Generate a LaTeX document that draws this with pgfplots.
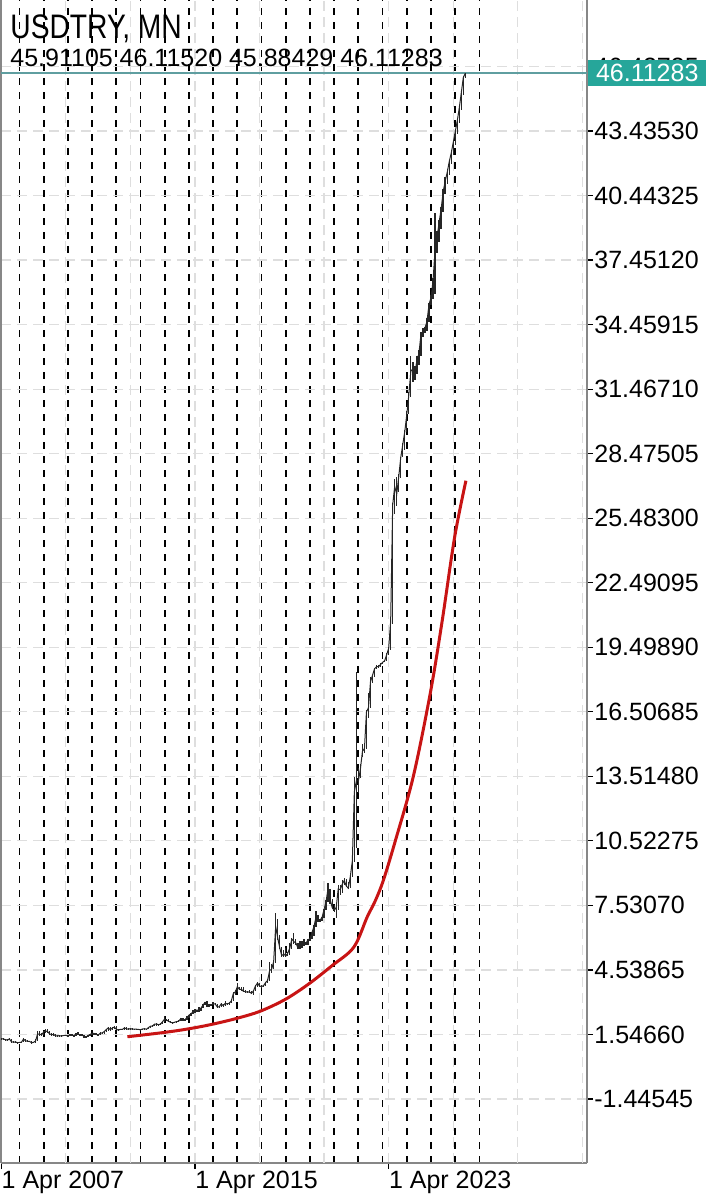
\documentclass[border=0pt]{standalone}
\usepackage{fontspec}
\setmainfont{Liberation Sans}
\newfontfamily\titlefont[FakeStretch=0.83]{Liberation Sans}
\usepackage{pgfplots}
\usepackage{pgfplotstable}
\pgfplotsset{compat=1.18}

\definecolor{mtred}{RGB}{200,20,20}
\definecolor{mtteal}{RGB}{38,166,154}
\definecolor{mtline}{RGB}{95,158,160}
\definecolor{gridgray}{RGB}{222,222,222}
\definecolor{axgray}{RGB}{135,135,135}

% monthly bars, n = months since Jan 2000
\pgfplotstableread{
n c lo hi
87 1.355 1.340 1.400
88 1.335 1.310 1.365
89 1.310 1.300 1.345
90 1.285 1.255 1.330
91 1.340 1.270 1.395
92 1.215 1.200 1.345
93 1.185 1.180 1.225
94 1.200 1.170 1.225
95 1.165 1.150 1.205
96 1.175 1.160 1.210
97 1.190 1.170 1.215
98 1.330 1.180 1.390
99 1.255 1.250 1.340
100 1.230 1.205 1.280
101 1.225 1.205 1.265
102 1.165 1.155 1.240
103 1.180 1.155 1.210
104 1.250 1.165 1.320
105 1.570 1.240 1.730
106 1.560 1.480 1.720
107 1.530 1.490 1.620
108 1.660 1.520 1.710
109 1.710 1.620 1.810
110 1.670 1.640 1.790
111 1.570 1.560 1.700
112 1.540 1.520 1.620
113 1.540 1.500 1.620
114 1.480 1.470 1.560
115 1.490 1.460 1.530
116 1.480 1.460 1.540
117 1.480 1.420 1.520
118 1.500 1.460 1.540
119 1.500 1.460 1.530
120 1.490 1.440 1.520
121 1.520 1.470 1.560
122 1.520 1.510 1.560
123 1.490 1.470 1.530
124 1.570 1.470 1.630
125 1.580 1.530 1.640
126 1.510 1.500 1.590
127 1.530 1.480 1.560
128 1.450 1.440 1.530
129 1.420 1.390 1.460
130 1.500 1.410 1.530
131 1.540 1.490 1.570
132 1.610 1.520 1.630
133 1.590 1.570 1.630
134 1.550 1.530 1.620
135 1.520 1.480 1.570
136 1.600 1.510 1.640
137 1.620 1.570 1.660
138 1.680 1.590 1.720
139 1.770 1.660 1.800
140 1.850 1.730 1.870
141 1.770 1.750 1.910
142 1.840 1.740 1.880
143 1.890 1.780 1.940
144 1.790 1.760 1.920
145 1.750 1.740 1.820
146 1.780 1.740 1.810
147 1.780 1.750 1.810
148 1.850 1.770 1.880
149 1.810 1.800 1.870
150 1.790 1.780 1.840
151 1.820 1.780 1.830
152 1.790 1.780 1.830
153 1.790 1.780 1.810
154 1.790 1.780 1.810
155 1.780 1.770 1.800
156 1.760 1.750 1.790
157 1.800 1.750 1.810
158 1.810 1.790 1.830
159 1.790 1.780 1.820
160 1.870 1.790 1.890
161 1.930 1.850 1.960
162 1.940 1.910 1.980
163 2.030 1.930 2.050
164 2.030 1.950 2.070
165 2.000 1.960 2.040
166 2.030 1.990 2.070
167 2.150 2.010 2.180
168 2.260 2.130 2.390
169 2.210 2.170 2.260
170 2.150 2.130 2.270
171 2.110 2.100 2.170
172 2.080 2.070 2.130
173 2.120 2.060 2.140
174 2.140 2.080 2.160
175 2.170 2.120 2.200
176 2.280 2.150 2.290
177 2.220 2.210 2.300
178 2.220 2.200 2.270
179 2.330 2.200 2.400
180 2.440 2.310 2.450
181 2.500 2.380 2.540
182 2.600 2.480 2.700
183 2.670 2.550 2.730
184 2.670 2.580 2.700
185 2.690 2.600 2.800
186 2.770 2.640 2.790
187 2.910 2.760 2.960
188 3.030 2.900 3.070
189 2.920 2.800 3.080
190 2.900 2.800 2.960
191 2.920 2.850 2.970
192 2.960 2.910 3.070
193 2.960 2.890 3.010
194 2.830 2.820 2.970
195 2.830 2.770 2.870
196 2.960 2.810 3.000
197 2.880 2.870 2.980
198 2.990 2.850 3.080
199 2.960 2.910 3.020
200 3.000 2.920 3.030
201 3.100 2.990 3.120
202 3.440 3.080 3.520
203 3.520 3.370 3.600
204 3.760 3.510 3.940
205 3.640 3.600 3.750
206 3.640 3.580 3.740
207 3.550 3.530 3.740
208 3.530 3.480 3.620
209 3.510 3.470 3.580
210 3.520 3.510 3.590
211 3.450 3.440 3.570
212 3.570 3.390 3.580
213 3.800 3.540 3.860
214 3.930 3.770 3.990
215 3.790 3.750 3.940
216 3.770 3.720 3.820
217 3.810 3.730 3.830
218 3.950 3.800 3.990
219 4.050 3.930 4.110
220 4.510 4.040 4.920
221 4.570 4.390 4.820
222 4.920 4.560 4.980
223 6.550 4.870 7.200
224 6.030 5.910 6.880
225 5.570 5.490 6.150
226 5.200 5.140 5.600
227 5.280 5.120 5.470
228 5.180 5.150 5.550
229 5.320 5.200 5.360
230 5.550 5.230 5.800
231 5.970 5.520 6.000
232 5.850 5.760 6.250
233 5.790 5.680 5.960
234 5.570 5.520 5.800
235 5.830 5.510 5.880
236 5.650 5.560 5.860
237 5.790 5.640 5.990
238 5.750 5.680 5.830
239 5.950 5.700 5.970
240 5.970 5.860 6.000
241 6.270 5.950 6.280
242 6.550 6.100 6.630
243 7.000 6.550 7.260
244 6.820 6.760 7.080
245 6.850 6.740 6.900
246 6.970 6.830 7.000
247 7.350 6.940 7.380
248 7.720 7.330 7.800
249 8.330 7.700 8.580
250 7.820 7.590 8.280
251 7.430 7.390 7.850
252 7.290 7.230 7.560
253 7.440 6.960 7.500
254 8.290 7.340 8.470
255 8.260 8.030 8.470
256 8.510 8.110 8.700
257 8.690 8.460 8.810
258 8.430 8.380 8.760
259 8.330 8.290 8.630
260 8.870 8.330 8.940
261 9.590 8.860 9.850
262 12.80 9.550 13.480
263 13.30 10.200 18.360
264 13.30 12.750 13.880
265 13.85 13.420 14.080
266 14.67 14.400 15.000
267 14.80 14.580 14.890
268 16.50 14.800 16.600
269 16.70 16.200 17.370
270 17.90 16.700 18.100
271 18.20 17.820 18.210
272 18.50 18.120 18.540
273 18.60 18.490 18.680
274 18.60 18.550 18.690
275 18.70 18.570 18.760
276 18.80 18.710 18.830
277 18.87 18.810 18.930
278 19.15 18.860 19.240
279 19.44 19.140 19.480
280 20.70 19.360 20.750
281 26.10 20.600 26.200
282 26.95 25.700 27.300
283 26.60 26.050 27.370
284 27.40 26.700 27.550
285 28.30 27.360 28.320
286 28.90 28.300 28.950
287 29.50 28.650 29.550
288 30.30 29.480 30.450
289 31.20 30.300 31.320
290 32.30 31.100 33.000
291 32.40 31.800 32.740
292 32.20 31.900 32.520
293 32.80 32.150 33.000
294 33.10 32.600 33.300
295 34.00 33.000 34.100
296 34.10 33.900 34.300
297 34.30 34.050 34.360
298 34.60 34.150 34.760
299 35.40 34.600 35.450
300 35.70 35.350 35.810
301 36.50 35.650 36.600
302 37.90 35.900 39.650
303 38.50 37.800 38.800
304 39.20 38.300 39.300
305 39.80 38.900 39.900
306 40.60 39.700 40.750
307 41.10 40.500 41.300
308 41.50 41.000 41.650
309 42.00 41.400 42.100
310 42.40 41.900 42.550
311 42.90 42.300 43.000
312 43.40 42.800 43.500
313 43.90 43.300 44.000
314 44.50 43.800 44.600
315 45.20 44.400 45.300
316 45.91 45.100 46.000
317 46.11283 45.88429 46.11520
}\bars

% moving average (red)
\pgfplotstableread{
n v
149.5 1.44
167.7 1.64
180.0 1.81
191.6 2.02
204.0 2.30
215.5 2.63
227.9 3.18
239.4 3.89
251.0 4.74
261.7 5.59
268.3 6.98
272.4 7.75
276.4 8.70
282.3 10.52
291.2 13.50
299.6 17.35
305.5 20.70
311.7 24.60
317.3 27.22
}\ma

\begin{document}
\begin{tikzpicture}
\begin{axis}[
    at={(0.5pt,18.5pt)}, anchor=south west,
    width=293pt, height=581.5pt, scale only axis,
    xmin=86.85, xmax=377.32, ymin=-4.413, ymax=49.509,
    clip=false,
    axis x line*=bottom, axis y line*=right,
    axis line style={axgray, line width=1pt, -},
    tick align=outside,
    major tick length=3pt,
    minor tick length=0pt,
    tick style={black, line width=0.6pt},
    xtick={87,183,279},
    xticklabels={1 Apr 2007,1 Apr 2015,1 Apr 2023},
    xticklabel style={anchor=north west, inner sep=0pt, yshift=-1pt, font=\fontsize{12.5}{12.5}\selectfont},
    extra x ticks={119,151,215,247,311,343,375},
    extra x tick labels={},
    extra x tick style={major tick length=0pt, grid=major},
    minor xtick={96,108,...,324},
    xminorgrids=true,
    ymajorgrids=true,
    xmajorgrids=true,
    major grid style={gridgray, line width=0.6pt, dash pattern=on 5pt off 3pt},
    minor grid style={black, line width=0.9pt, dash pattern=on 3.5pt off 3.5pt},
    ytick={-1.44545,1.54660,4.53865,7.53070,10.52275,13.51480,16.50685,19.49890,22.49095,25.48300,28.47505,31.46710,34.45915,37.45120,40.44325,43.43530,46.42735},
    yticklabels={-1.44545,1.54660,4.53865,7.53070,10.52275,13.51480,16.50685,19.49890,22.49095,25.48300,28.47505,31.46710,34.45915,37.45120,40.44325,43.43530,46.42735},
    yticklabel style={anchor=west, inner sep=0pt, xshift=0.5pt, font=\fontsize{12.5}{12.5}\selectfont},
]
\draw[axgray, line width=1.2pt] (rel axis cs:0,0) -- (rel axis cs:0,1);
\addplot[mtline, line width=0.8pt, forget plot] coordinates {(86.85,46.11283) (377.32,46.11283)};
\addplot[black!85, line width=0.5pt, forget plot] table[x=n, y=c] {\bars};
\addplot[draw=none, forget plot, error bars/.cd, y dir=both, y explicit, error mark=none,
    error bar style={black!85, line width=0.65pt}]
    table[x=n, y=c, y error plus expr=\thisrow{hi}-\thisrow{c}, y error minus expr=\thisrow{c}-\thisrow{lo}] {\bars};
\addplot[mtred, line width=1.5pt, smooth, tension=0.55, forget plot] table[x=n, y=v] {\ma};
\coordinate (pr) at (axis cs:377.32,46.11283);
\end{axis}
\node[anchor=west, fill=mtteal, text=white, inner xsep=4pt, inner ysep=0pt, minimum height=13pt,
      font=\fontsize{12.5}{12.5}\selectfont] at ([xshift=0.3pt]pr) {46.11283};
\node[anchor=base west, inner sep=0pt, font=\titlefont\fontsize{17}{17}\selectfont] at (5pt,580.5pt) {USDTRY, MN};
\node[anchor=base west, inner sep=0pt, font=\fontsize{12.5}{12.5}\selectfont] at (5pt,566.5pt) {45.91105 46.11520 45.88429 46.11283};
\pgfresetboundingbox
\path[use as bounding box] (0,0) rectangle (363pt,600pt);
\end{tikzpicture}
\end{document}
